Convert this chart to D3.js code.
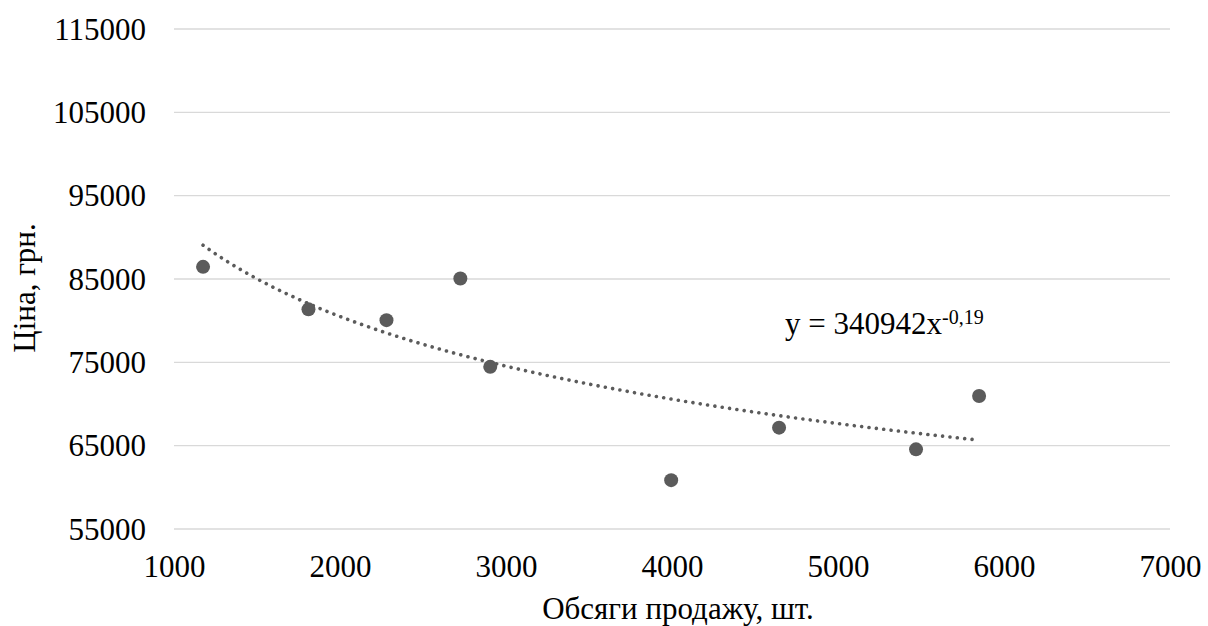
<!DOCTYPE html>
<html>
<head>
<meta charset="utf-8">
<script src="https://cdn.jsdelivr.net/npm/d3@7"></script>
<style>
  html, body { margin: 0; padding: 0; background: #fff; }
  svg { display: block; }
  text { font-family: "Liberation Serif", "Times New Roman", serif; fill: #000; }
</style>
</head>
<body>
<svg id="chart" width="1208" height="626"></svg>
<script>
// Data
const salesVolume = [1175, 1810, 2280, 2725, 2905, 3995, 4645, 5470, 5850];
const price       = [86400, 81300, 80000, 85000, 74400, 60800, 67100, 64500, 70900];
const xTicks = [1000, 2000, 3000, 4000, 5000, 6000, 7000];
const yTicks = [55000, 65000, 75000, 85000, 95000, 105000, 115000];
// Power trendline shown on the chart: y = a * x^b
const trendA = 340942;
const trendB = -0.19;
const xTitle = "Обсяги продажу, шт.";
const yTitle = "Ціна, грн.";

const svg = d3.select("#chart");
const plot = { left: 174, right: 1170, top: 28.5, bottom: 528.5 };

const x = d3.scaleLinear().domain([1000, 7000]).range([plot.left, plot.right]);
const y = d3.scaleLinear().domain([55000, 115000]).range([plot.bottom, plot.top]);

// Gridlines + y tick labels
const yAxis = d3.axisLeft(y).tickValues(yTicks).tickSize(-(plot.right - plot.left)).tickPadding(28).tickFormat(d3.format("d"));
const gy = svg.append("g").attr("transform", `translate(${plot.left},0)`).call(yAxis)
  .attr("font-family", "Liberation Serif");
gy.select(".domain").remove();
gy.selectAll(".tick line").attr("stroke", "#d9d9d9").attr("stroke-width", 1.4);
gy.selectAll(".tick text").attr("font-size", 31).attr("fill", "#000").attr("dy", "0.34em");

// x tick labels
const xAxis = d3.axisBottom(x).tickValues(xTicks).tickSize(0).tickPadding(0).tickFormat(d3.format("d"));
const gx = svg.append("g").attr("transform", `translate(0,${plot.bottom})`).call(xAxis)
  .attr("font-family", "Liberation Serif");
gx.select(".domain").remove();
gx.selectAll(".tick text").attr("font-size", 31).attr("fill", "#000").attr("dy", null).attr("y", 48);

// Trendline (dotted)
const xMin = d3.min(salesVolume), xMax = d3.max(salesVolume);
const trendPts = d3.range(0, 101).map(i => {
  const xv = xMin + (xMax - xMin) * i / 100;
  return [xv, trendA * Math.pow(xv, trendB)];
});
svg.append("path")
  .datum(trendPts)
  .attr("d", d3.line().x(d => x(d[0])).y(d => y(d[1])))
  .attr("fill", "none")
  .attr("stroke", "#5b5b5b")
  .attr("stroke-width", 3.6)
  .attr("stroke-linecap", "round")
  .attr("stroke-dasharray", "0.01 7.4");

// Points
svg.append("g").selectAll("circle")
  .data(salesVolume.map((v, i) => [v, price[i]]))
  .join("circle")
  .attr("cx", d => x(d[0]))
  .attr("cy", d => y(d[1]))
  .attr("r", 7)
  .attr("fill", "#5b5b5b");

// Trendline equation
const eq = svg.append("text").attr("x", 785).attr("y", 334).attr("font-size", 31);
eq.append("tspan").text("y = " + trendA + "x");
eq.append("tspan").attr("font-size", 20).attr("dy", -10).text(String(trendB).replace(".", ","));

// Axis titles
svg.append("text")
  .attr("x", 678).attr("y", 619)
  .attr("text-anchor", "middle")
  .attr("font-size", 31)
  .text(xTitle);

svg.append("text")
  .attr("transform", "translate(35,288) rotate(-90)")
  .attr("text-anchor", "middle")
  .attr("font-size", 31)
  .text(yTitle);
</script>
</body>
</html>
